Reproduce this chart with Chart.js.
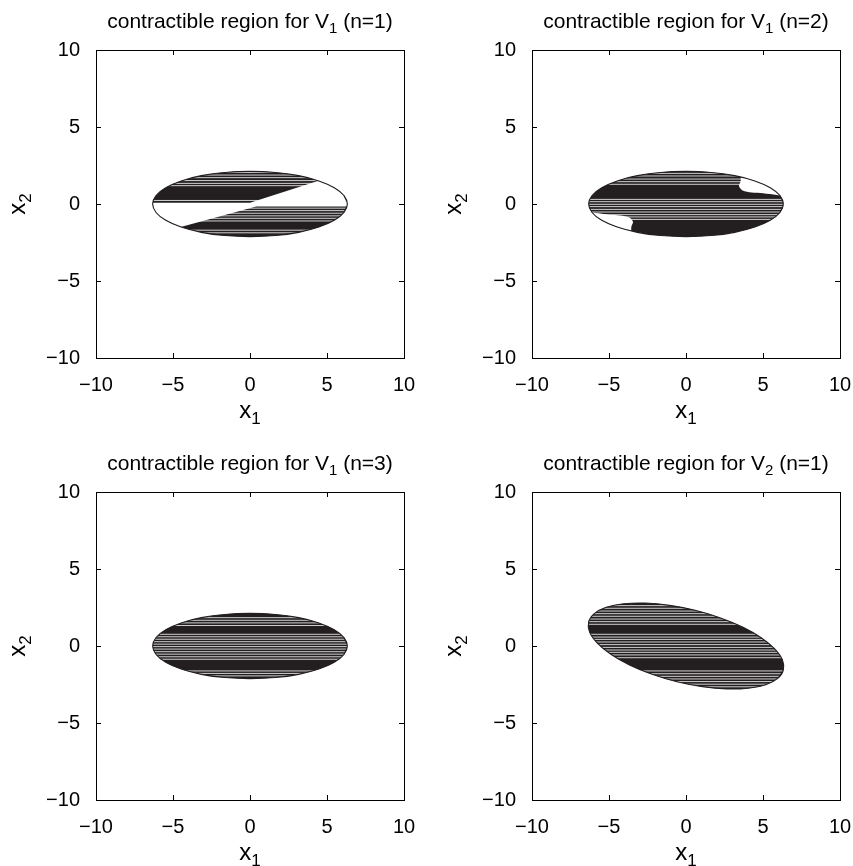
<!DOCTYPE html>
<html><head><meta charset="utf-8">
<script src="https://cdn.jsdelivr.net/npm/chart.js@4.4.0/dist/chart.umd.min.js"></script>
<style>
html,body{margin:0;padding:0;background:#fff;overflow:hidden;width:853px;height:866px;position:relative}
.p{position:absolute;width:436px;height:442px}
</style></head><body>
<div class="p" style="left:0;top:0"><canvas id="c0" width="436" height="442"></canvas></div>
<div class="p" style="left:436px;top:0"><canvas id="c1" width="436" height="442"></canvas></div>
<div class="p" style="left:0;top:442px"><canvas id="c2" width="436" height="442"></canvas></div>
<div class="p" style="left:436px;top:442px"><canvas id="c3" width="436" height="442"></canvas></div>
<script>
// ---------- data ----------
const axisTicks = [-10, -5, 0, 5, 10];
const titleMain = ['contractible region for V', 'contractible region for V', 'contractible region for V', 'contractible region for V'];
const titleSub = ['1', '1', '1', '2'];
const titleTail = [' (n=1)', ' (n=2)', ' (n=3)', ' (n=1)'];
const xLabel = ['x', '1'];
const yLabel = ['x', '2'];

// boundary of the V1 ellipse (panels 1-3)
const ellV1X = [6.32, 6.10, 5.47, 4.47, 3.16, 1.64, 0, -1.64, -3.16, -4.47, -5.47, -6.10, -6.32, -6.10, -5.47, -4.47, -3.16, -1.64, 0, 1.64, 3.16, 4.47, 5.47, 6.10];
const ellV1Y = [0, 0.55, 1.06, 1.50, 1.84, 2.05, 2.12, 2.05, 1.84, 1.50, 1.06, 0.55, 0, -0.55, -1.06, -1.50, -1.84, -2.05, -2.12, -2.05, -1.84, -1.50, -1.06, -0.55];
// boundary of the tilted V2 ellipse (panel 4)
const ellV2X = [6.32, 6.26, 5.76, 4.88, 3.67, 2.20, 0.59, -1.07, -2.65, -4.05, -5.18, -5.96, -6.32, -6.26, -5.76, -4.88, -3.67, -2.20, -0.59, 1.07, 2.65, 4.05, 5.18, 5.96];
const ellV2Y = [-1.56, -0.90, -0.19, 0.54, 1.23, 1.84, 2.32, 2.64, 2.79, 2.74, 2.51, 2.10, 1.56, 0.90, 0.19, -0.54, -1.23, -1.84, -2.32, -2.64, -2.79, -2.74, -2.51, -2.10];

// non-contractible (white) part, panel 1
const p1GapX = [-7.5, 0.0, 4.5, 7.5, 7.5, 0.4, -4.44, -7.5];
const p1GapY = [0.08, 0.08, 1.52, 2.48, -0.17, -0.17, -1.47, -2.3];
// non-contractible notches, panel 2
const p2NotchRX = [3.55, 3.55, 3.44, 3.68, 4.26, 5.02, 5.89, 7.0, 7.0];
const p2NotchRY = [2.6, 1.5, 1.17, 0.87, 0.74, 0.69, 0.58, 0.5, 2.6];
const p2NotchLX = [-3.55, -3.55, -3.44, -3.68, -4.26, -5.02, -5.89, -7.0, -7.0];
const p2NotchLY = [-2.6, -1.5, -1.17, -0.87, -0.74, -0.69, -0.58, -0.5, -2.6];

// y levels of the white gaps in the hatching
const hatch1 = [2.05, 1.88, 1.71, 1.52, 1.34, 1.19, 0.23, -0.27, -0.43, -0.6, -0.77, -0.93, -1.1, -1.7, -1.87];
const hatch2 = [1.99, 1.82, 1.62, 1.45, 1.28, 0.30, 0.15, -0.02, -0.17, -0.35, -0.52, -0.69, -0.84, -1.0];
const hatch3 = [1.84, 1.67, 1.5, 1.33, 0.76, 0.6, 0.44, 0.28, 0.12, -0.04, -0.2, -0.37, -0.53, -0.7, -0.86, -1.62, -1.78, -1.94];
const hatch4 = [2.62, 2.45, 2.27, 2.1, 1.93, 1.75, 1.58, 1.41, 0.76, 0.58, 0.43, 0.26, 0.09, -0.09, -0.26, -0.41, -0.58, -0.76, -1.62, -1.8, -1.97, -2.14, -2.31, -2.48, -2.65];

// ---------- helpers ----------
const FONT = '"Liberation Sans", Arial, Helvetica, sans-serif';
const INK = '#231f20';
function pts(xs, ys) { return xs.map((x, i) => ({x: x, y: ys[i]})); }
function ring(xs, ys) { const p = pts(xs, ys); return [p[p.length - 1], ...p, p[0], p[1]]; }
function hatchData(levels) {
  const out = [];
  levels.forEach(y => { out.push({x: -10, y: y}, {x: 10, y: y}, {x: 0, y: null}); });
  return out;
}
function fmt(v) { return v < 0 ? '\u2212' + Math.abs(v) : String(v); }

function drawParts(ctx, parts, cx, baseline) {
  let total = 0;
  parts.forEach(p => { ctx.font = p.size + 'px ' + FONT; p.w = ctx.measureText(p.t).width; total += p.w; });
  let x = cx - total / 2;
  parts.forEach(p => { ctx.font = p.size + 'px ' + FONT; ctx.fillText(p.t, x, baseline + p.dy); x += p.w; });
}

const shapePlugin = {
  id: 'shapes',
  beforeDatasetDraw(chart, args) {
    const ds = chart.data.datasets[args.index];
    if (!ds.clipTo && !ds.shapeFill) return;
    const ctx = chart.ctx;
    ctx.save();
    (ds.clipTo || []).forEach(i => {
      const line = chart.getDatasetMeta(i).dataset;
      line.updateControlPoints(chart.chartArea, 'x');
      ctx.beginPath(); line.path(ctx); ctx.closePath(); ctx.clip();
    });
    if (ds.shapeFill) {
      const line = args.meta.dataset;
      line.updateControlPoints(chart.chartArea, 'x');
      ctx.beginPath(); line.path(ctx); ctx.closePath();
      ctx.fillStyle = ds.shapeFill; ctx.fill();
    }
  },
  afterDatasetDraw(chart, args) {
    const ds = chart.data.datasets[args.index];
    if (ds.clipTo || ds.shapeFill) chart.ctx.restore();
  },
  afterDraw(chart) {
    const ctx = chart.ctx, ca = chart.chartArea, k = chart.options.panelIndex;
    const cx = (ca.left + ca.right) / 2, cy = (ca.top + ca.bottom) / 2;
    ctx.save();
    ctx.fillStyle = '#000';
    ctx.textAlign = 'left';
    ctx.textBaseline = 'alphabetic';
    drawParts(ctx, [{t: titleMain[k], size: 21, dy: 0}, {t: titleSub[k], size: 15, dy: 5}, {t: titleTail[k], size: 21, dy: 0}], cx, 28);
    drawParts(ctx, [{t: xLabel[0], size: 24, dy: 0}, {t: xLabel[1], size: 17, dy: 6}], cx, 418);
    ctx.translate(25, cy);
    ctx.rotate(-Math.PI / 2);
    drawParts(ctx, [{t: yLabel[0], size: 24, dy: 0}, {t: yLabel[1], size: 17, dy: 6}], 0, 0);
    ctx.restore();
  }
};

function outline(xs, ys) {
  return {data: ring(xs, ys), showLine: true, borderColor: INK, borderWidth: 1.1, tension: 0.4, pointRadius: 0, fill: false, xAxisID: 'x', yAxisID: 'y'};
}
function solid(xs, ys) {
  return {data: ring(xs, ys), showLine: true, borderColor: 'rgba(0,0,0,0)', borderWidth: 1, tension: 0.4, pointRadius: 0, fill: false, shapeFill: INK, xAxisID: 'x', yAxisID: 'y'};
}
function hole(xs, ys, clipIdx, tension) {
  return {data: pts(xs, ys), showLine: true, borderColor: 'rgba(0,0,0,0)', borderWidth: 1, tension: tension, pointRadius: 0, fill: false, shapeFill: '#fff', clipTo: [clipIdx], xAxisID: 'x', yAxisID: 'y'};
}
function hatch(levels, clipIdx) {
  return {data: hatchData(levels), showLine: true, borderColor: '#fff', borderWidth: 0.8, tension: 0, pointRadius: 0, fill: false, spanGaps: false, clipTo: [clipIdx], xAxisID: 'x', yAxisID: 'y'};
}

function axis(pos, size, showLabels) {
  const horiz = pos === 'bottom' || pos === 'top';
  return {
    type: 'linear', position: pos, min: -10, max: 10,
    afterBuildTicks: s => { s.ticks = axisTicks.map(v => ({value: v})); },
    afterFit: s => { if (horiz) s.height = size; else s.width = size; },
    ticks: {display: showLabels, callback: v => fmt(v), font: {family: FONT, size: 20}, color: '#000',
            padding: horiz ? 20 : 21, maxRotation: 0, autoSkip: false},
    grid: {drawOnChartArea: false, drawTicks: true, tickLength: -5, tickColor: '#000', tickWidth: 1},
    border: {display: true, color: '#000', width: 1}
  };
}

function makeChart(id, k, datasets) {
  new Chart(document.getElementById(id), {
    type: 'scatter',
    data: {datasets: datasets},
    options: {
      panelIndex: k,
      responsive: false, animation: false, events: [],
      layout: {padding: {left: 0, top: 50, right: 32, bottom: 24}},
      plugins: {legend: {display: false}, tooltip: {enabled: false}, title: {display: false}},
      scales: {x: axis('bottom', 60, true), y: axis('left', 96, true), xt: axis('top', 0, false), yr: axis('right', 0, false)}
    },
    plugins: [shapePlugin]
  });
}

// panel 1: outline, white gap, hatch, black ellipse
makeChart('c0', 0, [outline(ellV1X, ellV1Y), hole(p1GapX, p1GapY, 3, 0), hatch(hatch1, 3), solid(ellV1X, ellV1Y)]);
// panel 2
makeChart('c1', 1, [outline(ellV1X, ellV1Y), hole(p2NotchRX, p2NotchRY, 4, 0.3), hole(p2NotchLX, p2NotchLY, 4, 0.3), hatch(hatch2, 4), solid(ellV1X, ellV1Y)]);
// panel 3
makeChart('c2', 2, [outline(ellV1X, ellV1Y), hatch(hatch3, 2), solid(ellV1X, ellV1Y)]);
// panel 4
makeChart('c3', 3, [outline(ellV2X, ellV2Y), hatch(hatch4, 2), solid(ellV2X, ellV2Y)]);
</script>
</body></html>
